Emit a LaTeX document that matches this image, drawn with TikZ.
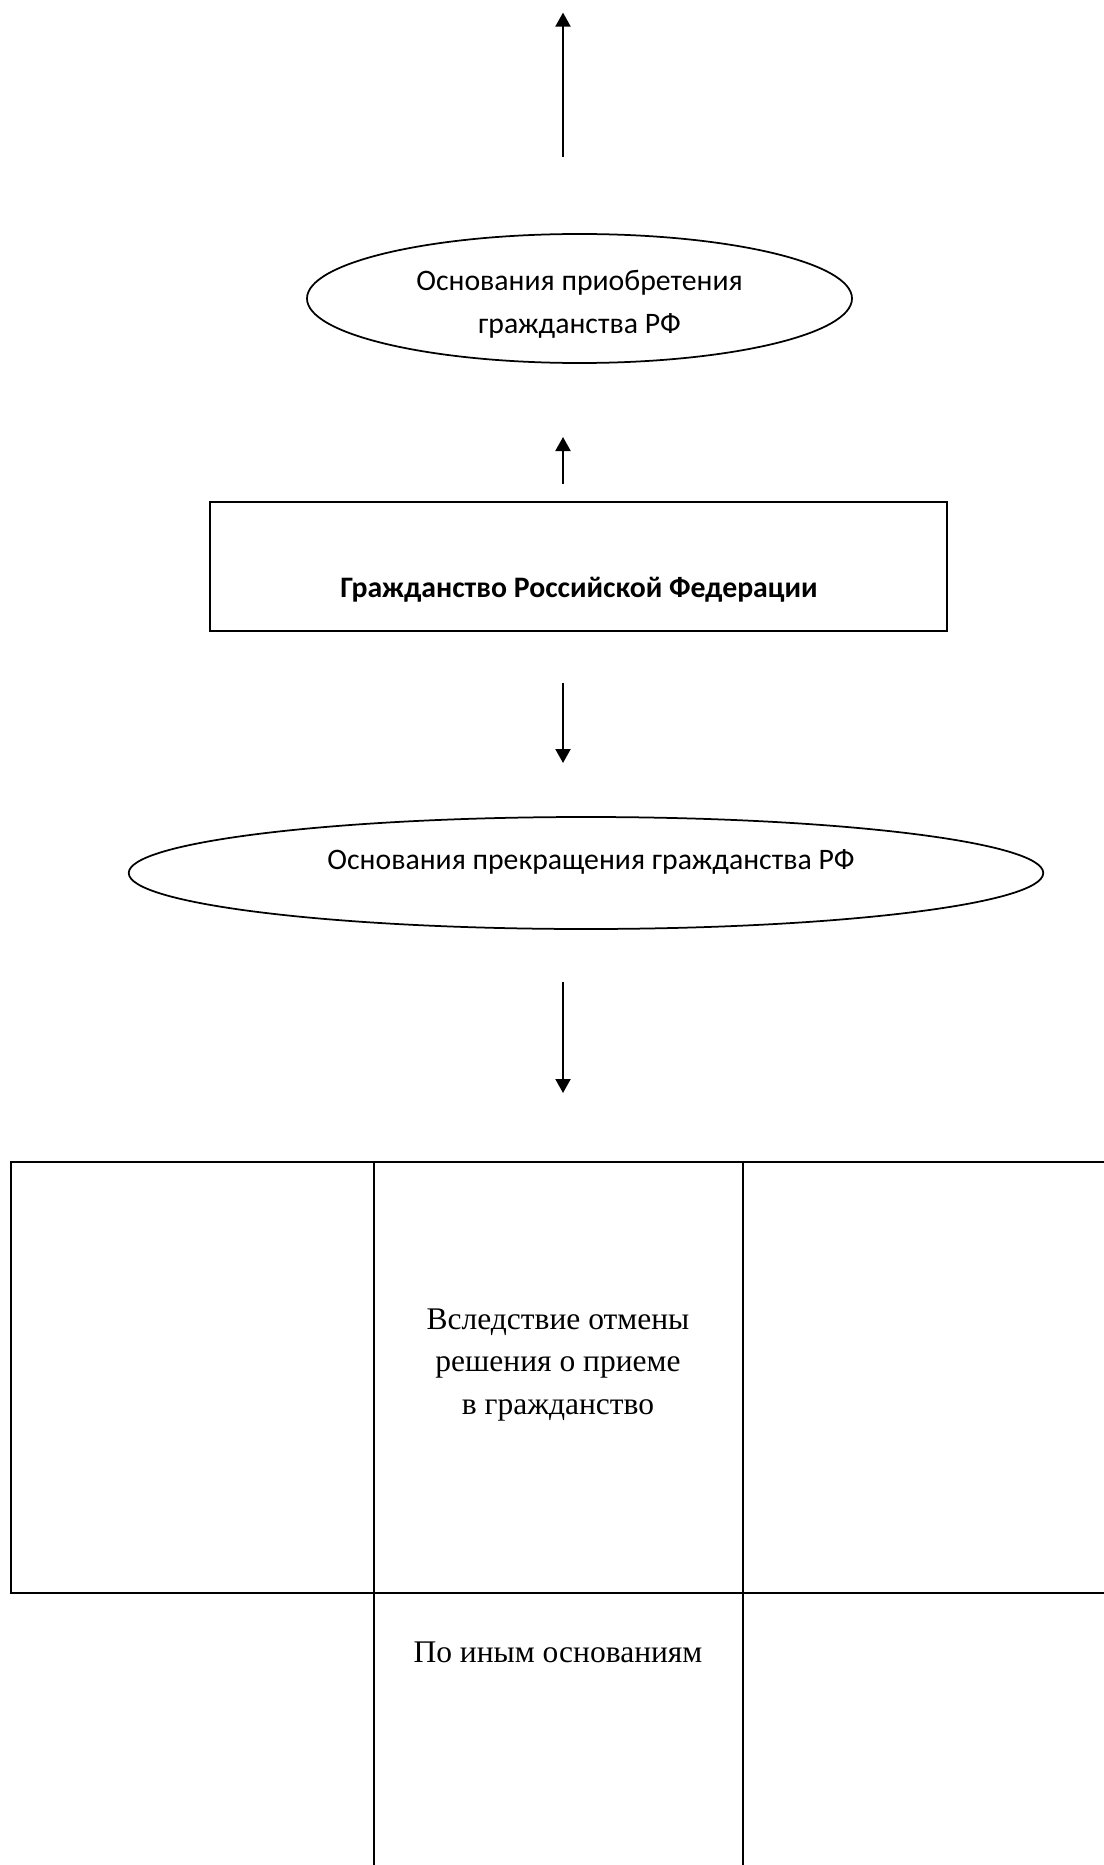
\documentclass[tikz,border=0pt]{standalone}
\usepackage{fontspec}
\setmainfont{Carlito}
\newfontfamily\tnr{Liberation Serif}
\usetikzlibrary{shapes.geometric,arrows.meta}

\begin{document}
\fontsize{11.9}{17.1}\selectfont
\begin{tikzpicture}[x=0.4pt,y=-0.4pt,
    oval/.style={ellipse,draw,line width=0.7pt,inner sep=0pt},
    pil/.style={line width=0.8pt,-{Triangle[width=6pt,length=5.6pt]}},
    rule/.style={line width=0.8pt},
    cell/.style={font=\tnr\fontsize{12.6}{17}\selectfont,align=center}]
  \useasboundingbox (0,0) rectangle (1104,1865);
  %\draw[very thin,gray] (0,0) grid[step=100] (1104,1865);
  \node[oval,minimum width=218pt,minimum height=51.6pt] (pri) at (579.5,298.5) {};
  \node[align=center] (pritxt) at (579.5,304) {Основания приобретения\\гражданства РФ};
  \node[draw,line width=0.8pt,minimum width=294.8pt,minimum height=51.6pt,inner sep=0pt] (rf) at (578.5,566.5) {};
  \node[font=\bfseries] (rftxt) at (579,590) {Гражданство Российской Федерации};
  \node[oval,minimum width=365.8pt,minimum height=44.8pt] (pre) at (586,873) {};
  \node (pretxt) at (591,862) {Основания прекращения гражданства РФ};
  % arrows do not touch the shapes
  \coordinate (a1) at (563,157); \coordinate (b1) at (563,12.6);
  \coordinate (a2) at (563,484); \coordinate (b2) at (563,437);
  \coordinate (a3) at (563,683); \coordinate (b3) at (563,763);
  \coordinate (a4) at (563,982); \coordinate (b4) at (563,1093);
  \foreach \i in {1,...,4}
    \draw[pil] (a\i) -- (b\i);
  % table
  \draw[rule] (1104,1162) -- (11,1162) -- (11,1593) -- (1104,1593);
  \foreach \cx in {374,743}
    \draw[rule] (\cx,1162) -- (\cx,1865);
  \node[cell] (otm) at (558,1365) {Вследствие отмены\\решения о приеме\\в гражданство};
  \node[cell] (inye) at (558,1652) {По иным основаниям};
\end{tikzpicture}
\end{document}
